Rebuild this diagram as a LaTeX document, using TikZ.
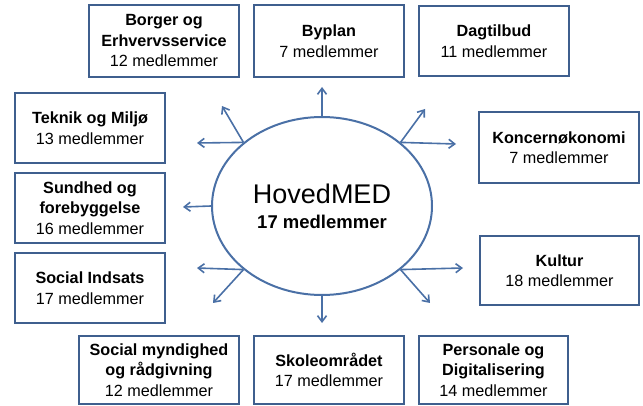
\documentclass[tikz,border=0pt]{standalone}
\usepackage{fontspec}
\setmainfont{Liberation Sans}
\usetikzlibrary{shapes.geometric,arrows.meta}
\definecolor{boxblue}{HTML}{3F5F8E}
\definecolor{arrblue}{HTML}{4A70A6}
\begin{document}
\begin{tikzpicture}[x=1pt,y=-1pt,
  unitbox/.style={draw=boxblue,line width=2pt,fill=white,inner sep=0pt,
    align=center,font=\fontsize{16.2}{20.5}\selectfont},
  spoke/.style={draw=arrblue,line width=1.6pt,-{Straight Barb[length=6pt,width=9pt,line width=1.6pt]}}]
\useasboundingbox (0,0) rectangle (643,406);
% boxes
\node[unitbox,minimum width=150pt,minimum height=72pt] (borger) at (164,41) {\textbf{Borger og}\\\textbf{Erhvervsservice}\\12 medlemmer};
\node[unitbox,minimum width=150pt,minimum height=72pt] (byplan) at (329,41) {\textbf{Byplan}\\7 medlemmer};
\node[unitbox,minimum width=150pt,minimum height=70pt] (dag) at (494,41) {\textbf{Dagtilbud}\\11 medlemmer};
\node[unitbox,minimum width=150pt,minimum height=70pt] (teknik) at (90,128) {\textbf{Teknik og Miljø}\\13 medlemmer};
\node[unitbox,minimum width=150pt,minimum height=70pt] (sund) at (90,208) {\textbf{Sundhed og}\\\textbf{forebyggelse}\\16 medlemmer};
\node[unitbox,minimum width=150pt,minimum height=70pt] (indsats) at (90,288) {\textbf{Social Indsats}\\17 medlemmer};
\node[unitbox,minimum width=160pt,minimum height=71pt] (koncern) at (559,147.5) {\textbf{Koncernøkonomi}\\7 medlemmer};
\node[unitbox,minimum width=159pt,minimum height=69pt] (kultur) at (559.5,270.5) {\textbf{Kultur}\\18 medlemmer};
\node[unitbox,minimum width=160pt,minimum height=68pt] (myn) at (159,370) {\textbf{Social myndighed}\\\textbf{og rådgivning}\\12 medlemmer};
\node[unitbox,minimum width=150pt,minimum height=68pt] (skole) at (329,370) {\textbf{Skoleområdet}\\17 medlemmer};
\node[unitbox,minimum width=149pt,minimum height=68pt] (pers) at (493.5,370) {\textbf{Personale og}\\\textbf{Digitalisering}\\14 medlemmer};
% central ellipse
\node[ellipse,draw=arrblue,line width=2pt,minimum width=220pt,minimum height=178pt,inner sep=0pt,align=center,
  font=\fontsize{18.5}{25}\selectfont] (hoved) at (322,206)
  {{\fontsize{27}{30}\selectfont HovedMED}\\\textbf{17 medlemmer}};
% arrow tips
\coordinate (tTop) at (322,87);
\coordinate (tBot) at (322,323);
\coordinate (tLeft) at (183,207);
\coordinate (tULh) at (197,143);
\coordinate (tULd) at (222,106);
\coordinate (tURh) at (456,144);
\coordinate (tURd) at (425,109);
\coordinate (tLLh) at (197,268);
\coordinate (tLLd) at (213,303);
\coordinate (tLRh) at (463,268);
\coordinate (tLRd) at (430,303);
% spokes
\draw[spoke] (hoved.90) -- (tTop);
\draw[spoke] (hoved.270) -- (tBot);
\draw[spoke] (hoved.180) -- (tLeft);
\draw[spoke] (hoved.141) -- (tULh);
\draw[spoke] (hoved.141) -- (tULd);
\draw[spoke] (hoved.39) -- (tURh);
\draw[spoke] (hoved.39) -- (tURd);
\draw[spoke] (hoved.219) -- (tLLh);
\draw[spoke] (hoved.219) -- (tLLd);
\draw[spoke] (hoved.321) -- (tLRh);
\draw[spoke] (hoved.321) -- (tLRd);
\end{tikzpicture}
\end{document}
